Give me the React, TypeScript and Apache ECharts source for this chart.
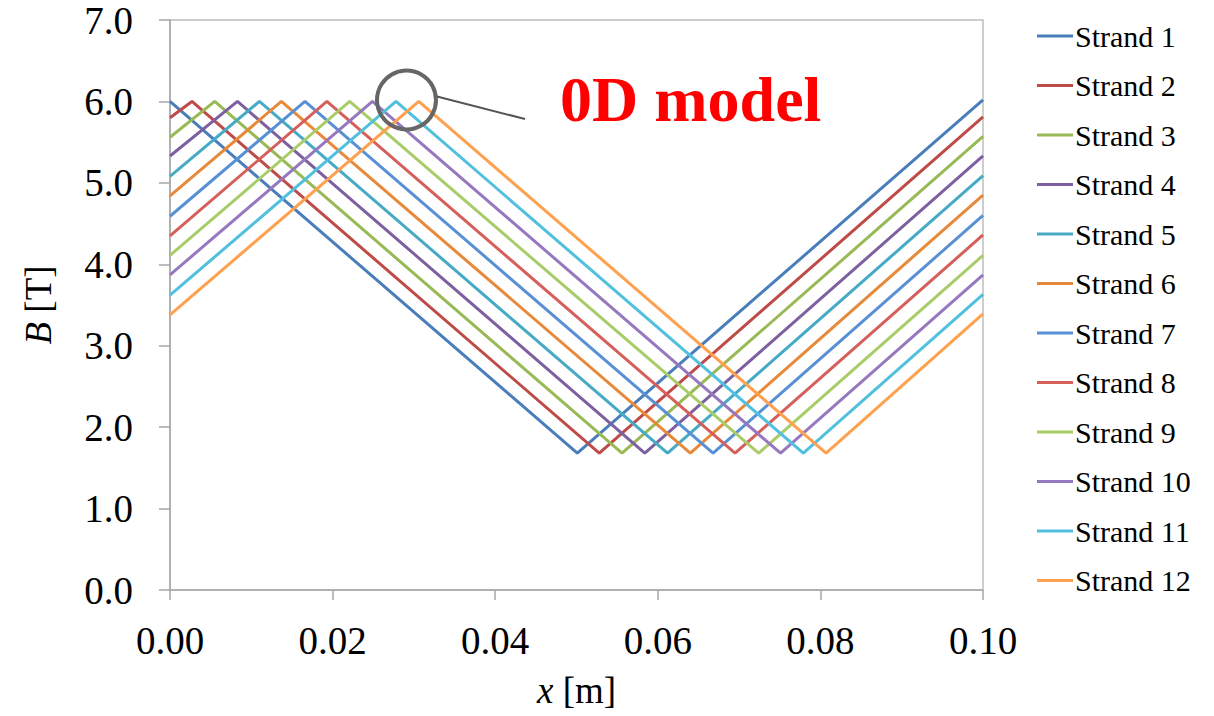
import React, { useEffect, useRef } from "react";
import * as echarts from "echarts";

const strandNames = [
  "Strand 1", "Strand 2", "Strand 3", "Strand 4", "Strand 5", "Strand 6",
  "Strand 7", "Strand 8", "Strand 9", "Strand 10", "Strand 11", "Strand 12",
];

const strandColors = [
  "#4A7EBB", "#BE4B48", "#98B954", "#7D60A0", "#46AAC5", "#E8893A",
  "#5890D6", "#D65F5B", "#A8CC68", "#9578BE", "#50C0DE", "#FFA04E",
];

// [x, B] points: value at x=0, peak, valley, value at x=0.10
const strand1 = [[0, 6.0], [0.0501, 1.68], [0.1, 6.02]];
const strand2 = [[0, 5.8], [0.0027, 6.0], [0.0528, 1.68], [0.1, 5.81]];
const strand3 = [[0, 5.56], [0.0055, 6.0], [0.0556, 1.68], [0.1, 5.57]];
const strand4 = [[0, 5.33], [0.0083, 6.0], [0.0584, 1.68], [0.1, 5.33]];
const strand5 = [[0, 5.08], [0.011, 6.0], [0.0612, 1.68], [0.1, 5.09]];
const strand6 = [[0, 4.84], [0.0137, 6.0], [0.064, 1.68], [0.1, 4.85]];
const strand7 = [[0, 4.59], [0.0166, 6.0], [0.0668, 1.68], [0.1, 4.6]];
const strand8 = [[0, 4.35], [0.0193, 6.0], [0.0695, 1.68], [0.1, 4.36]];
const strand9 = [[0, 4.11], [0.0221, 6.0], [0.0724, 1.68], [0.1, 4.11]];
const strand10 = [[0, 3.87], [0.0249, 6.0], [0.0751, 1.68], [0.1, 3.87]];
const strand11 = [[0, 3.62], [0.0278, 6.0], [0.0779, 1.68], [0.1, 3.63]];
const strand12 = [[0, 3.38], [0.0306, 6.0], [0.0807, 1.68], [0.1, 3.39]];

const strandData = [
  strand1, strand2, strand3, strand4, strand5, strand6,
  strand7, strand8, strand9, strand10, strand11, strand12,
];

const FONT = "'Liberation Serif', 'Times New Roman', serif";

export default function App() {
  const ref = useRef<HTMLDivElement>(null);
  useEffect(() => {
    if (!ref.current) return;
    const chart = echarts.init(ref.current, undefined, { renderer: "svg" });
    chart.setOption({
      animation: false,
      backgroundColor: "#ffffff",
      grid: {
        left: 170,
        right: 231,
        top: 20,
        bottom: 126,
        show: true,
        borderColor: "#BFBFBF",
        borderWidth: 1.5,
      },
      xAxis: {
        type: "value",
        min: 0,
        max: 0.1,
        interval: 0.02,
        name: "{i|x} [m]",
        nameLocation: "middle",
        nameGap: 82,
        nameTextStyle: {
          fontFamily: FONT,
          fontSize: 37,
          color: "#000",
          rich: { i: { fontFamily: FONT, fontSize: 37, fontStyle: "italic", color: "#000" } },
        },
        axisLine: { show: true, lineStyle: { color: "#A6A6A6", width: 1.5 } },
        axisTick: { show: true, length: 10, inside: false, lineStyle: { color: "#A6A6A6", width: 1.5 } },
        splitLine: { show: false },
        axisLabel: {
          fontFamily: FONT,
          fontSize: 39,
          color: "#000",
          margin: 31,
          formatter: (v: number) => v.toFixed(2),
        },
      },
      yAxis: {
        type: "value",
        min: 0,
        max: 7,
        interval: 1,
        name: "{i|B} [T]",
        nameLocation: "middle",
        nameGap: 113,
        nameTextStyle: {
          fontFamily: FONT,
          fontSize: 37,
          color: "#000",
          rich: { i: { fontFamily: FONT, fontSize: 37, fontStyle: "italic", color: "#000" } },
        },
        axisLine: { show: true, lineStyle: { color: "#A6A6A6", width: 1.5 } },
        axisTick: { show: true, length: 11, inside: false, lineStyle: { color: "#A6A6A6", width: 1.5 } },
        splitLine: { show: false },
        axisLabel: {
          fontFamily: FONT,
          fontSize: 39,
          color: "#000",
          margin: 37,
          formatter: (v: number) => v.toFixed(1),
        },
      },
      legend: {
        orient: "vertical",
        left: 1032,
        top: 16,
        icon: "rect",
        itemWidth: 36,
        itemHeight: 3,
        itemGap: 19.5,
        textStyle: { fontFamily: FONT, fontSize: 30, lineHeight: 30, color: "#000", padding: [0, 0, 0, -3] },
        data: strandNames,
      },
      series: strandNames.map((name, i) => ({
        name,
        type: "line",
        data: strandData[i],
        symbol: "none",
        showSymbol: false,
        color: strandColors[i],
        lineStyle: { width: 3, color: strandColors[i] },
      })),
      graphic: [
        {
          type: "circle",
          shape: { cx: 406.5, cy: 100, r: 29.5 },
          style: { fill: "none", stroke: "#666666", lineWidth: 4 },
          z: 100,
        },
        {
          type: "line",
          shape: { x1: 437, y1: 96.5, x2: 525, y2: 119 },
          style: { stroke: "#555555", lineWidth: 2 },
          z: 100,
        },
        {
          type: "text",
          left: 560,
          top: 67,
          style: {
            text: "0D model",
            fill: "#FF0000",
            font: `bold 64px ${FONT}`,
          },
          z: 100,
        },
      ],
    });
    return () => chart.dispose();
  }, []);
  return <div ref={ref} style={{ width: 1214, height: 716, position: "absolute", left: 0, top: 0 }} />;
}
